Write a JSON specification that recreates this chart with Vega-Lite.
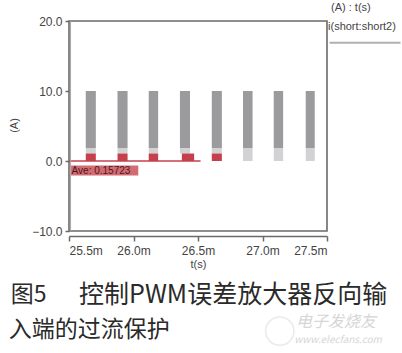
{
  "$schema": "https://vega.github.io/schema/vega-lite/v6.json",
  "width": 258,
  "height": 210,
  "autosize": "none",
  "padding": {"left": 69, "top": 21, "right": 75, "bottom": 122},
  "background": "white",
  "config": {
    "view": {"stroke": "#6a6a6a", "strokeWidth": 1.6},
    "font": "Liberation Sans"
  },
  "datasets": {
    "pulses": [
      {"t0": 25.630, "t1": 25.708, "seg": "high", "lo": 1.86, "hi": 10},
      {"t0": 25.630, "t1": 25.708, "seg": "mid", "lo": 1.07, "hi": 1.86},
      {"t0": 25.630, "t1": 25.708, "seg": "red", "lo": 0, "hi": 1.07},
      {"t0": 25.876, "t1": 25.954, "seg": "high", "lo": 1.86, "hi": 10},
      {"t0": 25.876, "t1": 25.954, "seg": "mid", "lo": 1.07, "hi": 1.86},
      {"t0": 25.876, "t1": 25.954, "seg": "red", "lo": 0, "hi": 1.07},
      {"t0": 26.118, "t1": 26.191, "seg": "high", "lo": 1.86, "hi": 10},
      {"t0": 26.118, "t1": 26.191, "seg": "mid", "lo": 1.07, "hi": 1.86},
      {"t0": 26.118, "t1": 26.191, "seg": "red", "lo": 0, "hi": 1.07},
      {"t0": 26.360, "t1": 26.438, "seg": "high", "lo": 1.86, "hi": 10},
      {"t0": 26.360, "t1": 26.438, "seg": "mid", "lo": 1.07, "hi": 1.86},
      {"t0": 26.375, "t1": 26.470, "seg": "red", "lo": 0, "hi": 1.07},
      {"t0": 26.607, "t1": 26.685, "seg": "high", "lo": 1.86, "hi": 10},
      {"t0": 26.607, "t1": 26.685, "seg": "mid", "lo": 1.07, "hi": 1.86},
      {"t0": 26.607, "t1": 26.685, "seg": "red", "lo": 0, "hi": 1.07},
      {"t0": 26.849, "t1": 26.923, "seg": "high", "lo": 1.86, "hi": 10},
      {"t0": 26.849, "t1": 26.923, "seg": "mid", "lo": 0, "hi": 1.86},
      {"t0": 27.087, "t1": 27.160, "seg": "high", "lo": 1.86, "hi": 10},
      {"t0": 27.087, "t1": 27.160, "seg": "mid", "lo": 0, "hi": 1.86},
      {"t0": 27.335, "t1": 27.405, "seg": "high", "lo": 1.86, "hi": 10},
      {"t0": 27.335, "t1": 27.405, "seg": "mid", "lo": 0, "hi": 1.86}
    ]
  },
  "layer": [
    {
      "data": {"name": "pulses"},
      "mark": {"type": "rect"},
      "encoding": {
        "x": {
          "field": "t0", "type": "quantitative",
          "scale": {"domain": [25.5, 27.5], "nice": false, "zero": false},
          "axis": {
            "title": "t(s)",
            "values": [25.5, 26.0, 26.5, 27.0, 27.5],
            "labelExpr": "format(datum.value, '.1f') + 'm'",
            "offset": 5,
            "domainColor": "#6a6a6a",
            "domainWidth": 1.5,
            "tickColor": "#6a6a6a",
            "tickWidth": 1.5,
            "tickSize": 5,
            "grid": false,
            "labelFontSize": 12,
            "labelColor": "#444444",
            "labelPadding": 4,
            "titleFontSize": 11,
            "titleFontWeight": "normal",
            "titleColor": "#444444",
            "titlePadding": 2
          }
        },
        "x2": {"field": "t1"},
        "y": {
          "field": "lo", "type": "quantitative",
          "scale": {"domain": [-10, 20], "nice": false, "zero": false},
          "axis": {
            "title": "(A)",
            "values": [-10, 0, 10, 20],
            "format": ".1f",
            "domain": false,
            "grid": false,
            "tickColor": "#6a6a6a",
            "tickWidth": 1.5,
            "tickSize": 4,
            "labelFontSize": 12,
            "labelColor": "#444444",
            "labelPadding": 3,
            "titleFontSize": 11,
            "titleFontWeight": "normal",
            "titleColor": "#444444",
            "titleX": -50,
            "titleY": 104
          }
        },
        "y2": {"field": "hi"},
        "color": {
          "field": "seg", "type": "nominal",
          "scale": {"domain": ["high", "mid", "red"], "range": ["#9b9b9d", "#d2d2d4", "#c4414c"]},
          "legend": null
        }
      }
    },
    {
      "data": {"values": [{"t0": 25.5, "t1": 26.52, "v": 0}]},
      "mark": {"type": "rule", "color": "#c4414c", "strokeWidth": 1.5},
      "encoding": {
        "x": {"field": "t0", "type": "quantitative"},
        "x2": {"field": "t1"},
        "y": {"field": "v", "type": "quantitative"}
      }
    },
    {
      "data": {"values": [{"t": 25.512, "lo": -10, "hi": 20}]},
      "mark": {"type": "rule", "color": "#a8a8a8", "strokeWidth": 1},
      "encoding": {
        "x": {"field": "t", "type": "quantitative"},
        "y": {"field": "lo", "type": "quantitative"},
        "y2": {"field": "hi"}
      }
    },
    {
      "data": {"values": [{"t0": 25.516, "t1": 26.037, "lo": -2.07, "hi": -0.64}]},
      "mark": {"type": "rect", "color": "#d46a72"},
      "encoding": {
        "x": {"field": "t0", "type": "quantitative"},
        "x2": {"field": "t1"},
        "y": {"field": "lo", "type": "quantitative"},
        "y2": {"field": "hi"}
      }
    },
    {
      "data": {"values": [{"t": 25.52, "v": -1.36, "label": "Ave: 0.15723"}]},
      "mark": {"type": "text", "align": "left", "baseline": "middle", "fontSize": 10, "color": "#4a1a1e"},
      "encoding": {
        "x": {"field": "t", "type": "quantitative"},
        "y": {"field": "v", "type": "quantitative"},
        "text": {"field": "label"}
      }
    },
    {
      "data": {"values": [
        {"t": 27.531, "v": 21.8, "label": "(A) : t(s)"},
        {"t": 27.508, "v": 19.2, "label": "i(short:short2)"}
      ]},
      "mark": {"type": "text", "align": "left", "baseline": "middle", "fontSize": 11, "color": "#444444", "clip": false},
      "encoding": {
        "x": {"field": "t", "type": "quantitative"},
        "y": {"field": "v", "type": "quantitative"},
        "text": {"field": "label"}
      }
    },
    {
      "data": {"values": [{"t0": 27.52, "t1": 28.07, "v": 16.9}]},
      "mark": {"type": "rule", "color": "#b0b0b0", "strokeWidth": 2, "clip": false},
      "encoding": {
        "x": {"field": "t0", "type": "quantitative"},
        "x2": {"field": "t1"},
        "y": {"field": "v", "type": "quantitative"}
      }
    },
    {
      "data": {"values": [{"t": 27.134, "v": -24.3}]},
      "mark": {"type": "point", "shape": "circle", "size": 800, "filled": false, "stroke": "#e2e2e2", "strokeWidth": 1.5, "clip": false},
      "encoding": {
        "x": {"field": "t", "type": "quantitative"},
        "y": {"field": "v", "type": "quantitative"}
      }
    },
    {
      "data": {"values": [
        {"t": 27.57, "v": -23.0, "label": "电子发烧友", "size": 16},
        {"t": 27.586, "v": -25.6, "label": "www.elecfans.com", "size": 10}
      ]},
      "mark": {"type": "text", "align": "center", "baseline": "middle", "color": "#d6d6d6", "fontStyle": "italic", "font": "Noto Sans CJK SC", "clip": false},
      "encoding": {
        "x": {"field": "t", "type": "quantitative"},
        "y": {"field": "v", "type": "quantitative"},
        "text": {"field": "label"},
        "size": {"field": "size", "type": "quantitative", "scale": null}
      }
    },
    {
      "data": {"values": [
        {"t": 25.049, "v": -19.1, "label": "图5", "size": 23},
        {"t": 25.578, "v": -19.1, "label": "控制PWM误差放大器反向输", "size": 25},
        {"t": 25.033, "v": -24.2, "label": "入端的过流保护", "size": 23}
      ]},
      "mark": {"type": "text", "align": "left", "baseline": "middle", "color": "#2a2a2a", "font": "Noto Sans CJK SC", "clip": false},
      "encoding": {
        "x": {"field": "t", "type": "quantitative"},
        "y": {"field": "v", "type": "quantitative"},
        "text": {"field": "label"},
        "size": {"field": "size", "type": "quantitative", "scale": null}
      }
    }
  ]
}
